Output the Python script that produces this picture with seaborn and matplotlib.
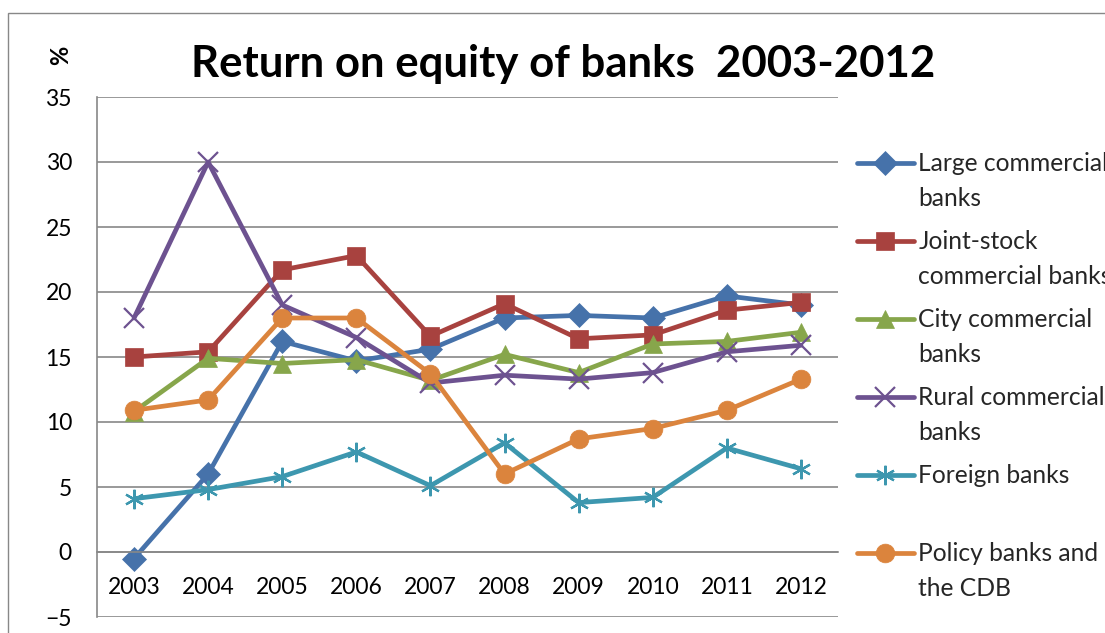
import matplotlib
matplotlib.use("Agg")
import matplotlib.pyplot as plt
import matplotlib.patches as mpatches
import matplotlib.colors as mcolors
import pandas as pd
import seaborn as sns

years = [2003, 2004, 2005, 2006, 2007, 2008, 2009, 2010, 2011, 2012]

large_commercial = [-0.5, 6.0, 16.2, 14.7, 15.6, 18.0, 18.2, 18.0, 19.7, 19.0]
joint_stock = [15.0, 15.4, 21.7, 22.8, 16.6, 19.1, 16.4, 16.7, 18.6, 19.2]
city_commercial = [10.8, 14.9, 14.5, 14.8, 13.2, 15.2, 13.8, 16.0, 16.2, 16.9]
rural_commercial = [18.0, 30.0, 19.0, 16.5, 13.0, 13.6, 13.3, 13.8, 15.4, 15.9]
foreign_banks = [4.1, 4.8, 5.8, 7.7, 5.1, 8.4, 3.8, 4.2, 8.0, 6.4]
policy_banks = [10.9, 11.7, 18.0, 18.0, 13.7, 6.0, 8.7, 9.5, 10.9, 13.3]

series_names = [
    "Large commercial\nbanks",
    "Joint-stock\ncommercial banks",
    "City commercial\nbanks",
    "Rural commercial\nbanks",
    "Foreign banks\n ",
    "Policy banks and\nthe CDB",
]
series_values = [large_commercial, joint_stock, city_commercial,
                 rural_commercial, foreign_banks, policy_banks]

colors = ["#4672AA", "#A8423F", "#87A64B", "#6D5290", "#3D97AF", "#DB843D"]
markers = ["D", "s", "^", "x", (6, 2, 0), "o"]
marker_sizes = [12, 12.5, 12.5, 14, 14, 13.5]
thin_markers = [False, False, False, True, True, False]

rows = []
for name, vals in zip(series_names, series_values):
    for yr, v in zip(years, vals):
        rows.append({"year": yr, "roe": v, "series": name})
df = pd.DataFrame(rows)

sns.set_theme(style="white")
plt.rcParams["font.family"] = ["Lato", "DejaVu Sans"]

fig = plt.figure(figsize=(11.05, 6.33), dpi=100)
ax = fig.add_axes([97 / 1105, 1 - 617 / 633, (838 - 97) / 1105, (617 - 97) / 633])

sns.lineplot(
    data=df, x="year", y="roe", hue="series", hue_order=series_names,
    palette=dict(zip(series_names, colors)),
    linewidth=3.4, ax=ax, legend=False,
)

# give each line its own marker, coloured like the line
handles = [None] * len(series_names)
rgb_list = [mcolors.to_rgb(c) for c in colors]
for line in ax.lines:
    lc = mcolors.to_rgb(line.get_color())
    i = min(range(len(rgb_list)),
            key=lambda k: sum((a - b) ** 2 for a, b in zip(rgb_list[k], lc)))
    line.set_marker(markers[i])
    line.set_markersize(marker_sizes[i])
    line.set_markeredgecolor(colors[i])
    line.set_markerfacecolor(colors[i])
    line.set_markeredgewidth(1.6 if thin_markers[i] else 0.5)
    line.set_solid_joinstyle("round")
    line.set_zorder(2 + i * 0.1)
    handles[i] = line

grid_c = "#888888"
ax.set_xlim(2002.5, 2012.5)
ax.set_ylim(-5, 35)
ax.set_yticks(range(-5, 36, 5))
ax.set_xticks(years)
ax.set_xticklabels([str(y) for y in years])
ax.yaxis.grid(True, color=grid_c, linewidth=1.2)
ax.xaxis.grid(False)
ax.set_axisbelow(True)
for s in ["top", "right"]:
    ax.spines[s].set_visible(False)
ax.spines["left"].set_color(grid_c)
ax.spines["left"].set_linewidth(1.2)
ax.spines["bottom"].set_position(("data", 0))
ax.spines["bottom"].set_color(grid_c)
ax.spines["bottom"].set_linewidth(1.2)
ax.tick_params(axis="x", length=0, pad=18, labelsize=16.5, labelcolor="black")
ax.tick_params(axis="y", length=0, pad=18, labelsize=16.5, labelcolor="black")
ax.set_xlabel("")
ax.set_ylabel("")

fig.text(563 / 1105, 1 - 64 / 633, "Return on equity of banks  2003-2012",
         ha="center", va="center", fontsize=31.5, fontweight="bold", color="black")
fig.text(61 / 1105, 1 - 55 / 633, "%", rotation=90, ha="center", va="center",
         fontsize=17, fontweight="bold", color="black")

# outer chart frame
fig.patches.append(mpatches.Rectangle(
    (8 / 1105, -0.2), 1.5, 0.2 + (1 - 13 / 633), transform=fig.transFigure,
    fill=False, edgecolor=grid_c, linewidth=1.0))

leg = fig.legend(
    handles, series_names, loc="upper left",
    bbox_to_anchor=(857 / 1105, 1 - 152 / 633), frameon=False,
    fontsize=17.7, handlelength=2.3, handletextpad=0.2, borderpad=0,
    labelspacing=0.8, borderaxespad=0, handleheight=1.3,
)
for t in leg.get_texts():
    t.set_linespacing(1.65)
for col in leg._legend_handle_box.get_children():
    for item in col.get_children():
        item.align = "top"

fig.savefig("out.png", dpi=100)
